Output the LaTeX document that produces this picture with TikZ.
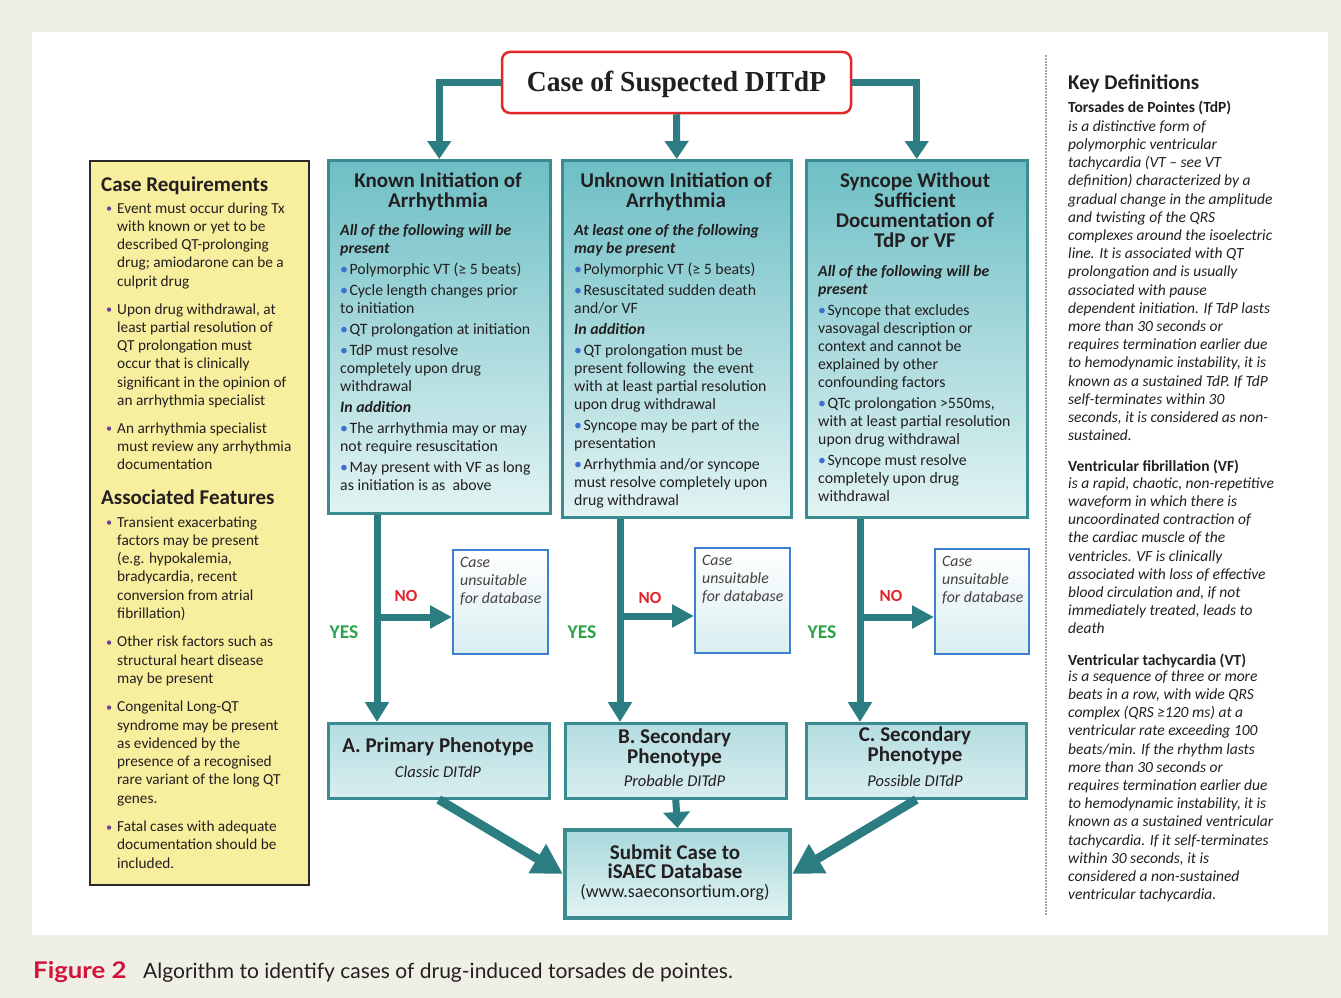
\documentclass[tikz,border=0pt]{standalone}
\usepackage{fontspec}
\setmainfont{Carlito}
\newfontfamily\titlefont[FakeStretch=0.95]{Liberation Serif}
\newfontfamily\capfont{Lato}
\newfontfamily\capfontwide[FakeStretch=1.12]{Lato}
\usetikzlibrary{arrows.meta,shadings}

\definecolor{pagebg}{HTML}{EFEFE5}
\definecolor{arrowteal}{HTML}{2B7D82}
\definecolor{boxborder}{HTML}{3A8C90}
\definecolor{boxtop}{HTML}{6DBFC5}
\definecolor{boxbot}{HTML}{E2F3F3}
\definecolor{phtop}{HTML}{B4DDE0}
\definecolor{phbot}{HTML}{D9EEF0}
\definecolor{yellowfill}{HTML}{F8EF9E}
\definecolor{yellowborder}{HTML}{2A2A2A}
\definecolor{unsuitborder}{HTML}{3D7FD3}
\definecolor{txt}{HTML}{231F20}
\definecolor{yesgreen}{HTML}{2DA14A}
\definecolor{nored}{HTML}{E3232C}
\definecolor{capred}{HTML}{D2143A}
\definecolor{titlered}{HTML}{E32626}
\definecolor{bulletblue}{HTML}{3D6FCF}
\definecolor{bulletpurple}{HTML}{6B3FA0}
\definecolor{sepgrey}{HTML}{A8A8A8}

\newcommand\bodyfont{\fontsize{15.8}{18}\selectfont}
\newcommand\ybodyfont{\fontsize{15.3}{18.3}\selectfont}
\newcommand\kdfont{\fontsize{15.5}{18.2}\selectfont}
\newcommand\headfont{\fontsize{21}{20}\selectfont\bfseries}
\newcommand\tbul{{\color{bulletblue}•}\hspace{1.5pt}}
\newcommand\ybul{\makebox[11pt][l]{\color{bulletpurple}\raisebox{0.5pt}{\scalebox{0.8}{•}}}}
\newcommand\yind{\hspace*{11pt}}

\begin{document}
\begin{tikzpicture}[x=1pt,y=-1pt,
  tealbox/.style={draw=boxborder, line width=2.5pt, top color=boxtop, bottom color=boxbot, anchor=north west, inner sep=0pt},
  phbox/.style={draw=boxborder, line width=2.5pt, top color=phtop, bottom color=phbot, anchor=north west, inner sep=0pt},
  subbox/.style={draw=boxborder, line width=4pt, top color=phtop!85!boxtop, bottom color=boxbot, anchor=north west, inner sep=0pt},
  unsuit/.style={draw=unsuitborder, line width=1.5pt, top color=white, bottom color=phbot, anchor=north west, inner sep=0pt},
  ybox/.style={draw=yellowborder, line width=2pt, fill=yellowfill, anchor=north west, inner sep=0pt},
  body/.style={anchor=north west, inner sep=0pt, align=left, font=\bodyfont, yshift=12.6pt, text=txt, execute at begin node=\strut},
  ybody/.style={anchor=north west, inner sep=0pt, align=left, font=\ybodyfont, yshift=12.81pt, text=txt, execute at begin node=\strut},
  kdbody/.style={anchor=north west, inner sep=0pt, align=left, font=\kdfont\itshape, yshift=12.74pt, text=txt, execute at begin node=\strut},
  head/.style={anchor=north, inner sep=0pt, align=center, font=\headfont, yshift=14pt, text=txt, execute at begin node=\strut},
  lhead/.style={anchor=base west, inner sep=0pt, font=\headfont, text=txt},
  sub/.style={anchor=base, inner sep=0pt, font=\fontsize{16.5}{18}\selectfont\itshape, text=txt},
  fat/.style={draw=arrowteal, line width=7pt, -{Triangle[length=20pt,width=23pt]}},
  fatter/.style={draw=arrowteal, line width=9pt, -{Triangle[length=30pt,width=32pt]}},
  nolbl/.style={inner sep=0pt, font=\fontsize{17}{17}\selectfont\bfseries, text=nored},
  yeslbl/.style={inner sep=0pt, font=\fontsize{19.5}{19}\selectfont\bfseries, text=yesgreen},
]
\useasboundingbox (0,0) rectangle (1341,998);
\fill[pagebg] (0,0) rectangle (1341,998);
\fill[white] (32,32) rectangle (1328,935);

% ---------- title ----------
\node[draw=titlered, line width=2.5pt, rounded corners=8pt, fill=white,
      minimum width=349pt, minimum height=61pt, inner sep=0pt, text=txt,
      text height=18pt, text depth=0pt,
      font=\titlefont\bfseries\fontsize{29}{30}\selectfont] (title) at (676.5,82.5) {Case of Suspected DITdP};

% ---------- left yellow box ----------
\node[ybox, minimum width=219pt, minimum height=724pt] (req) at (89,160) {};
\node[lhead] (reqh) at (101,191) {Case Requirements};
\node[ybody] (reqt) at (106,215) {\ybul Event must occur during Tx\\
\yind with known or yet to be\\
\yind described QT-prolonging\\
\yind drug; amiodarone can be a\\
\yind culprit drug\\[9.5pt]
\ybul Upon drug withdrawal, at\\
\yind least partial resolution of\\
\yind QT prolongation must\\
\yind occur that is clinically\\
\yind significant in the opinion of\\
\yind an arrhythmia specialist\\[9.5pt]
\ybul An arrhythmia specialist\\
\yind must review any arrhythmia\\
\yind documentation};
\node[lhead] (assh) at (101,504) {Associated Features};
\node[ybody] (asst) at (106,529) {\ybul Transient exacerbating\\
\yind factors may be present\\
\yind (e.g. hypokalemia,\\
\yind bradycardia, recent\\
\yind conversion from atrial\\
\yind fibrillation)\\[10pt]
\ybul Other risk factors such as\\
\yind structural heart disease\\
\yind may be present\\[10pt]
\ybul Congenital Long-QT\\
\yind syndrome may be present\\
\yind as evidenced by the\\
\yind presence of a recognised\\
\yind rare variant of the long QT\\
\yind genes.\\[10pt]
\ybul Fatal cases with adequate\\
\yind documentation should be\\
\yind included.};

% ---------- three teal boxes ----------
\node[tealbox, minimum width=222pt, minimum height=353pt] (k1) at (327,159) {};
\node[tealbox, minimum width=229pt, minimum height=357pt] (k2) at (561,159) {};
\node[tealbox, minimum width=221pt, minimum height=357pt] (k3) at (805,159) {};

\node[head] (k1h) at (438,187) {Known Initiation of\\Arrhythmia};
\node[body] (k1t) at (340,237) {\textbf{\textit{All of the following will be}}\\
\textbf{\textit{present}}\\[3pt]
\tbul Polymorphic VT (≥ 5 beats)\\[3pt]
\tbul Cycle length changes prior\\
to initiation\\[3pt]
\tbul QT prolongation at initiation\\[3pt]
\tbul TdP must resolve\\
completely upon drug\\
withdrawal\\[3pt]
\textbf{\textit{In addition}}\\[3pt]
\tbul The arrhythmia may or may\\
not require resuscitation\\[3pt]
\tbul May present with VF as long\\
as initiation is as~~above};

\node[head] (k2h) at (676,187) {Unknown Initiation of\\Arrhythmia};
\node[body] (k2t) at (574,237) {\textbf{\textit{At least one of the following}}\\
\textbf{\textit{may be present}}\\[3pt]
\tbul Polymorphic VT (≥ 5 beats)\\[3pt]
\tbul Resuscitated sudden death\\
and/or VF\\[3pt]
\textbf{\textit{In addition}}\\[3pt]
\tbul QT prolongation must be\\
present following~~the event\\
with at least partial resolution\\
upon drug withdrawal\\[3pt]
\tbul Syncope may be part of the\\
presentation\\[3pt]
\tbul Arrhythmia and/or syncope\\
must resolve completely upon\\
drug withdrawal};

\node[head] (k3h) at (915,187) {Syncope Without\\Sufficient\\Documentation of\\TdP or VF};
\node[body] (k3t) at (818,278) {\textbf{\textit{All of the following will be}}\\
\textbf{\textit{present}}\\[3pt]
\tbul Syncope that excludes\\
vasovagal description or\\
context and cannot be\\
explained by other\\
confounding factors\\[3pt]
\tbul QTc prolongation >550ms,\\
with at least partial resolution\\
upon drug withdrawal\\[3pt]
\tbul Syncope must resolve\\
completely upon drug\\
withdrawal};

% ---------- unsuitable boxes ----------
\node[unsuit, minimum width=95pt, minimum height=104pt] (u1) at (452,549) {};
\node[unsuit, minimum width=95pt, minimum height=105pt] (u2) at (694,547) {};
\node[unsuit, minimum width=94pt, minimum height=105pt] (u3) at (934,548) {};
\node[body, text=txt!85] (u1t) at (460,570) {\itshape Case\\\itshape unsuitable\\\itshape for database};
\node[body, text=txt!85] (u2t) at (702,568) {\itshape Case\\\itshape unsuitable\\\itshape for database};
\node[body, text=txt!85] (u3t) at (942,569) {\itshape Case\\\itshape unsuitable\\\itshape for database};

% ---------- phenotype boxes ----------
\node[phbox, minimum width=221pt, minimum height=75pt] (pa) at (327,722) {};
\node[phbox, minimum width=221pt, minimum height=75pt] (pb) at (564,722) {};
\node[phbox, minimum width=220pt, minimum height=75pt] (pc) at (805,722) {};
\node[anchor=base, inner sep=0pt, font=\headfont, text=txt] (pah) at (438,752) {A. Primary Phenotype};
\node[sub] (pat) at (438,777) {Classic DITdP};
\node[head] (pbh) at (674.5,743) {B. Secondary\\Phenotype};
\node[sub] (pbt) at (674.5,786) {Probable DITdP};
\node[head] (pch) at (915,741) {C. Secondary\\Phenotype};
\node[sub] (pct) at (915,786) {Possible DITdP};

% ---------- submit box ----------
\node[subbox, minimum width=225pt, minimum height=88pt] (sub) at (563,828) {};
\node[anchor=north, inner sep=0pt, align=center, text=txt, font=\fontsize{21}{19}\selectfont\bfseries, yshift=13.3pt, execute at begin node=\strut] (subh) at (675,858) {Submit Case to\\iSAEC Database};
\node[anchor=base, inner sep=0pt, font=\fontsize{18}{18}\selectfont, text=txt] (subt) at (675,897) {(www.saeconsortium.org)};

% ---------- connectors ----------
\draw[fat, -{Triangle[length=18pt,width=23pt]}] (title.west) -| (k1.north);
\draw[fat, -{Triangle[length=18pt,width=23pt]}] (title.south) -- (k2.north);
\draw[fat, -{Triangle[length=18pt,width=23pt]}] (title.east) -| (k3.north);

\coordinate (j1) at (377,617);
\coordinate (j2) at (620,616);
\coordinate (j3) at (860,617);
\draw[fat] (k1.south -| j1) -- (pa.north -| j1);
\draw[fat] (k2.south -| j2) -- (pb.north -| j2);
\draw[fat] (k3.south -| j3) -- (pc.north -| j3);
\draw[fat, -{Triangle[length=22pt,width=22pt]}] (j1) -- (u1.west |- j1);
\draw[fat, -{Triangle[length=22pt,width=22pt]}] (j2) -- (u2.west |- j2);
\draw[fat, -{Triangle[length=22pt,width=22pt]}] (j3) -- (u3.west |- j3);

\draw[fatter] (pa.south) -- (sub.west);
\draw[fat, -{Triangle[length=16pt,width=26pt]}] (pb.south) -- (sub.north);
\draw[fatter] (pc.south) -- (sub.east);

% ---------- yes/no labels ----------
\node[nolbl] (no1) at (406,596) {NO};
\node[nolbl] (no2) at (650,598) {NO};
\node[nolbl] (no3) at (891,596) {NO};
\node[yeslbl] (yes1) at (344,632) {YES};
\node[yeslbl] (yes2) at (582,632) {YES};
\node[yeslbl] (yes3) at (822,632) {YES};

% ---------- key definitions ----------
\coordinate (sepTop) at (1046,55);
\coordinate (sepBot) at (1046,915);
\draw[sepgrey, line width=1.6pt, dash pattern=on 1.6pt off 1.4pt] (sepTop) -- (sepBot);
\node[lhead] (kdh) at (1068,89) {Key Definitions};
\node[anchor=base west, inner sep=0pt, font=\kdfont\bfseries, text=txt] (tdph) at (1068,112) {Torsades de Pointes (TdP)};
\node[kdbody] (tdpt) at (1068,133) {is a distinctive form of\\
polymorphic ventricular\\
tachycardia (VT – see VT\\
definition) characterized by a\\
gradual change in the amplitude\\
and twisting of the QRS\\
complexes around the isoelectric\\
line. It is associated with QT\\
prolongation and is usually\\
associated with pause\\
dependent initiation. If TdP lasts\\
more than 30 seconds or\\
requires termination earlier due\\
to hemodynamic instability, it is\\
known as a sustained TdP. If TdP\\
self-terminates within 30\\
seconds, it is considered as non-\\
sustained.};
\node[anchor=base west, inner sep=0pt, font=\kdfont\bfseries, text=txt] (vfh) at (1068,471) {Ventricular fibrillation (VF)};
\node[kdbody] (vft) at (1068,490) {is a rapid, chaotic, non-repetitive\\
waveform in which there is\\
uncoordinated contraction of\\
the cardiac muscle of the\\
ventricles. VF is clinically\\
associated with loss of effective\\
blood circulation and, if not\\
immediately treated, leads to\\
death};
\node[anchor=base west, inner sep=0pt, font=\kdfont\bfseries, text=txt] (vth) at (1068,665) {Ventricular tachycardia (VT)};
\node[kdbody] (vtt) at (1068,683) {is a sequence of three or more\\
beats in a row, with wide QRS\\
complex (QRS ≥120 ms) at a\\
ventricular rate exceeding 100\\
beats/min. If the rhythm lasts\\
more than 30 seconds or\\
requires termination earlier due\\
to hemodynamic instability, it is\\
known as a sustained ventricular\\
tachycardia. If it self-terminates\\
within 30 seconds, it is\\
considered a non-sustained\\
ventricular tachycardia.};

% ---------- caption ----------
\node[anchor=base west, inner sep=0pt, font=\capfontwide\bfseries\fontsize{23}{24}\selectfont, text=capred] (capfig) at (33,978) {Figure 2};
\node[anchor=base west, inner sep=0pt, font=\capfont\fontsize{21}{22}\selectfont, text=txt] (captxt) at (143,978) {Algorithm to identify cases of drug-induced torsades de pointes.};
\end{tikzpicture}
\end{document}
